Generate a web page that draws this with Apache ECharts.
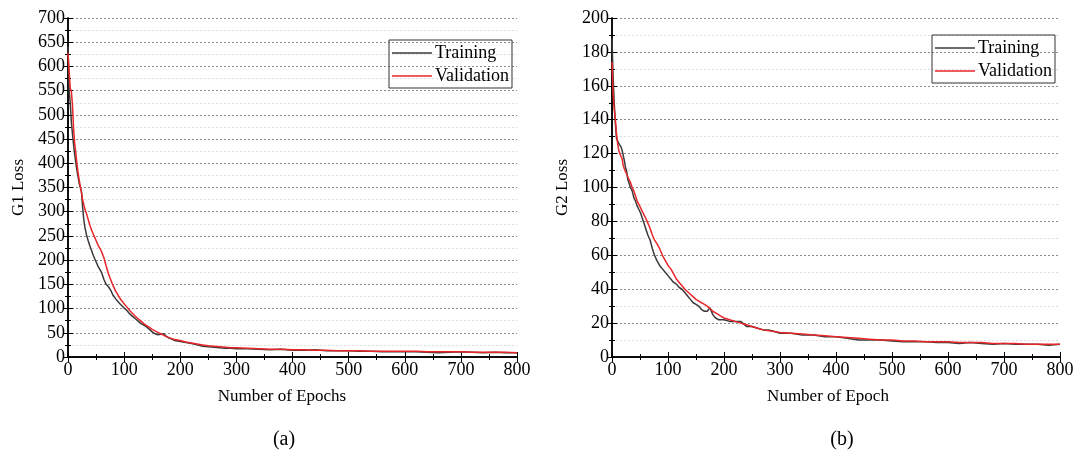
<!DOCTYPE html>
<html><head><meta charset="utf-8">
<script src="https://cdn.jsdelivr.net/npm/echarts@6/dist/echarts.min.js"></script>
<style>html,body{margin:0;padding:0;background:#fff}#c{width:1078px;height:453px}</style>
</head><body><div id="c"></div>
<script>
const epochs = [0,2,4,6,8,10,12,14,16,18,20,22,24,26,28,30,33,36,39,42,45,48,51,54,57,60,64,68,72,76,80,85,90,95,100,105,110,115,120,125,130,135,140,145,150,155,160,165,170,175,180,185,190,195,200,210,220,230,240,250,260,270,280,290,300,320,340,360,380,400,420,440,460,480,500,520,540,560,580,600,620,640,660,680,700,720,740,760,780,800];
const g1Train = [641,550,525,485,460,438,418,400,385,372,358,350,342,310,285,268,252,240,229,220,210,202,194,186,189,174,160,150,145,138,128,120,113,107,101,96,89,84,79,74,69,66,62,57,52,48,46,47,48,43,39,37,34,33,32,30,28,25,22,21,20,19,18,18,17,17,16,15,16,14,14,15,13,13,13,12,12,11,11,11,11,10,9,10,11,10,9,10,9,9];
const g1Val = [628,590,555,548,520,470,440,420,398,380,365,352,340,325,315,306,296,284,272,262,254,246,238,230,224,217,205,188,172,160,148,136,126,117,110,103,96,90,84,79,74,69,65,61,57,54,51,48,45,42,40,38,36,35,34,31,29,27,25,23,22,21,20,19,19,18,17,16,16,15,15,14,14,13,13,13,12,12,12,12,12,11,11,11,11,10,10,10,10,9];
const g2Train = [188,165,150,138,129,128,126,127,124,122,121,116,112,110,105,106,100,98,94,92,89,87,85,82,79,76,72,69,64,60,57,54,52,50,48,46,44,43,41,40,38,36,34,32,31,30,28,27,27,29,25,23,22,22,22,21,21,21,18,18,17,16,16,15,14,14,13,13,12,12,11,10,10,10,9.5,9,9,9,8.5,8.5,8,8.5,8,7.5,8,7.5,7.5,7.5,7,7.5];
const g2Val = [174,155,146,140,132,126,122,120,119,117,113,111,110,108,107,105,103,100,98,95,92,90,88,86,84,82,79,76,72,69,67,64,60,57,54,52,49,46,44,42,40,38.5,37,35.5,34,33,32,31,30,28.5,27,26,25,24,23,22,21,20,19,18,17,16,15.5,15,14.5,14,13.5,13,12.5,12,11.5,11,10.5,10,10,9.5,9.5,9,9,9,8.5,8.5,8.5,8,8,8,7.5,7.5,7.5,7.5];
const xTicks = {min:0, max:800, interval:100};
const g1Axis = {min:0, max:700, interval:50};
const g2Axis = {min:0, max:200, interval:20};
const seriesNames = ['Training','Validation'];
const panelLabels = ['(a)','(b)'];
const xNames = ['Number of Epochs','Number of Epoch'];
const yNames = ['G1 Loss','G2 Loss'];

const FONT = 'Liberation Serif';
const pairs = (ys) => epochs.map((e,i)=>[e, ys[i]]);
const chart = echarts.init(document.getElementById('c'), null, {renderer:'canvas'});

const grids = [
  {left:68, right:561, top:18, bottom:96},
  {left:612, right:18, top:18, bottom:96}
];
const lineAx = {show:true, lineStyle:{color:'#000', width:1.5}};
const tick = {inside:true, length:5, lineStyle:{color:'#000'}};
const mtick = {show:true, splitNumber:2, length:3, lineStyle:{color:'#000'}};
function xAxes(gi){
  return [
    {type:'value', gridIndex:gi, min:xTicks.min, max:xTicks.max, interval:xTicks.interval,
     axisLine:lineAx, axisTick:tick, minorTick:mtick,
     axisLabel:{fontFamily:FONT, fontSize:18, color:'#000', margin:4},
     splitLine:{show:false}},
    {type:'value', gridIndex:gi, position:'top', min:xTicks.min, max:xTicks.max, interval:xTicks.interval,
     axisLine:lineAx, axisTick:tick, minorTick:mtick,
     axisLabel:{show:false}, splitLine:{show:false}}
  ];
}
function yAxes(gi, ax){
  return [
    {type:'value', gridIndex:gi, min:ax.min, max:ax.max, interval:ax.interval,
     name:yNames[gi], nameLocation:'middle', nameGap:41,
     nameTextStyle:{fontFamily:FONT, fontSize:17, color:'#000'},
     axisLine:lineAx, axisTick:tick, minorTick:mtick,
     axisLabel:{fontFamily:FONT, fontSize:18, color:'#000', margin:3},
     splitLine:{show:true, lineStyle:{color:'#8a8a8a', type:[2,2], width:1}},
     minorSplitLine:{show:true, lineStyle:{color:'#dcdcdc', type:[2,2], width:1}}},
    {type:'value', gridIndex:gi, position:'right', min:ax.min, max:ax.max, interval:ax.interval,
     axisLine:lineAx, axisTick:tick, minorTick:mtick,
     axisLabel:{show:false}, splitLine:{show:false}}
  ];
}
const trainStyle = {color:'#3a3a3a', width:1.5};
const valStyle = {color:'#e8262a', width:1.5};
function mkSeries(name, data, xi, yi, style, z){
  return {type:'line', name, data, xAxisIndex:xi, yAxisIndex:yi, symbol:'none', z,
    lineStyle:style, itemStyle:{color:style.color}, animation:false};
}
const legendCommon = {
  orient:'vertical', data:seriesNames, itemWidth:40, itemHeight:1.5, itemGap:3,
  borderColor:'#333', borderWidth:1, padding:[3,3,2,3], borderRadius:0,
  textStyle:{fontFamily:FONT, fontSize:18, color:'#000', padding:[0,0,0,-2], lineHeight:20},
  icon:'rect', selectedMode:false
};
const option = {
  backgroundColor:'#fff',
  animation:false,
  grid: grids,
  xAxis: [...xAxes(0), ...xAxes(1)],
  yAxis: [...yAxes(0, g1Axis), ...yAxes(1, g2Axis)],
  legend: [
    Object.assign({}, legendCommon, {left:389, top:40}),
    Object.assign({}, legendCommon, {left:932, top:35})
  ],
  series: [
    mkSeries(seriesNames[0], pairs(g1Train), 0, 0, trainStyle, 2),
    mkSeries(seriesNames[1], pairs(g1Val), 0, 0, valStyle, 3),
    mkSeries(seriesNames[0], pairs(g2Train), 2, 2, trainStyle, 2),
    mkSeries(seriesNames[1], pairs(g2Val), 2, 2, valStyle, 3)
  ],
  graphic: [
    {type:'text', position:[282,397], style:{text:xNames[0], font:'17px "Liberation Serif"', fill:'#000', textAlign:'center', textVerticalAlign:'middle'}},
    {type:'text', position:[828,397], style:{text:xNames[1], font:'17px "Liberation Serif"', fill:'#000', textAlign:'center', textVerticalAlign:'middle'}},
    {type:'text', position:[284,440], style:{text:panelLabels[0], font:'20px "Liberation Serif"', fill:'#000', textAlign:'center', textVerticalAlign:'middle'}},
    {type:'text', position:[842,440], style:{text:panelLabels[1], font:'20px "Liberation Serif"', fill:'#000', textAlign:'center', textVerticalAlign:'middle'}}
  ]
};
chart.setOption(option);
</script></body></html>
